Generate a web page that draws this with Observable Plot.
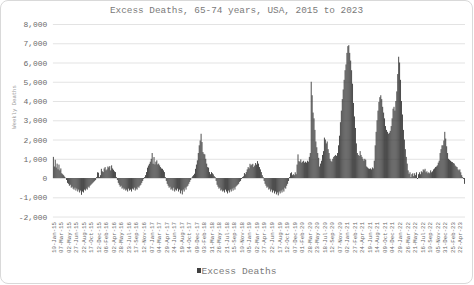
<!DOCTYPE html>
<html>
<head>
<meta charset="utf-8">
<script src="https://cdn.jsdelivr.net/npm/d3@7"></script>
<script src="https://cdn.jsdelivr.net/npm/@observablehq/plot@0.6"></script>
<style>
  html, body { margin: 0; padding: 0; background: #fff; }
  #frame { position: absolute; left: 0; top: 0; width: 473px; height: 284px; box-sizing: border-box;
           border: 1px solid #d9d9d9; border-radius: 8px; background: #fff; overflow: hidden;
           font-family: "Liberation Mono", "DejaVu Sans Mono", monospace; }
  #title { height: 17px; line-height: 19px; text-align: center; font-size: 9.4px; color: #7a7a7a; white-space: nowrap; }
  #chart { height: 246px; }
  #ylabel { position: absolute; left: 13px; top: 106px; font-size: 5.6px; color: #9a9a9a; white-space: nowrap;
            transform: translate(-50%, -50%) rotate(-90deg); }
  #legend { height: 16px; line-height: 16px; text-align: center; font-size: 9.6px; color: #7a7a7a; white-space: nowrap; }
  #legend .sw { display: inline-block; width: 4px; height: 5px; background: #404040; margin-right: 1px; vertical-align: 1px; }
</style>
</head>
<body>
<div id="frame">
  <div id="title">Excess Deaths, 65-74 years, USA, 2015 to 2023</div>
  <div id="chart"></div>
  <div id="ylabel">Weekly Deaths</div>
  <div id="legend"><span class="sw"></span>Excess Deaths</div>
</div>
<script>
// Weekly excess deaths, 65-74 years, USA — one value per week starting 10-Jan-15
const excessDeaths = [
  1100, 600, 950, 550, 750, 450, 700, 400, 500, 250,
  200, 150, 80, 20, -100, -250, -300, -400, -350, -500,
  -450, -550, -600, -500, -650, -550, -700, -600, -750, -650,
  -870, -700, -750, -600, -650, -550, -600, -450, -500, -400,
  -350, -300, -250, -200, -150, -100, 50, 300, 280, 50,
  150, 480, 350, 310, 500, 570, 400, 450, 600, 550,
  620, 400, 660, 500, 430, 350, 310, 50, -100, -250,
  -350, -450, -400, -550, -500, -600, -550, -650, -600, -700,
  -550, -650, -600, -700, -550, -600, -500, -650, -550, -600,
  -450, -500, -400, -350, -250, -150, -50, 50, 150, 310,
  540, 650, 740, 850, 1000, 1300, 740, 1090, 710, 850,
  920, 710, 750, 660, 570, 500, 480, 400, 310, 50,
  -150, -300, -400, -500, -450, -600, -550, -650, -500, -700,
  -600, -650, -550, -700, -600, -800, -650, -850, -600, -700,
  -500, -600, -450, -400, -300, -200, -100, 20, 90, 150,
  225, 480, 700, 920, 1300, 1700, 1950, 2300, 1870, 1350,
  1260, 1230, 1000, 750, 570, 540, 310, 200, 310, 250,
  190, 100, 50, -150, -350, -450, -550, -500, -650, -600,
  -700, -650, -750, -600, -700, -800, -650, -750, -600, -700,
  -550, -650, -500, -600, -450, -400, -350, -300, -200, -150,
  -50, 50, 90, 260, 200, 310, 450, 570, 500, 740,
  660, 700, 740, 570, 650, 780, 700, 880, 750, 570,
  450, 310, 150, 50, -150, -300, -400, -500, -450, -600,
  -550, -700, -600, -750, -650, -800, -700, -850, -750, -900,
  -700, -800, -650, -750, -600, -700, -500, -550, -400, -300,
  -150, 50, 250, 300, 150, 200, 150, 300, 200, 700,
  1230, 880, 850, 970, 800, 850, 900, 800, 850, 800,
  900, 850, 1100, 1300, 5000, 4300, 3400, 3100, 2500, 1900,
  1600, 1300, 1050, 600, 750, 900, 1200, 1400, 2100, 2000,
  1800, 1900, 1500, 1300, 1000, 900, 850, 1000, 1100, 1150,
  1200, 1150, 1300, 1700, 2200, 2900, 3500, 4100, 4600, 5100,
  5600, 5900, 6500, 6850, 6900, 6500, 6100, 5600, 4900, 3900,
  3200, 2600, 1800, 1300, 1200, 1150, 1400, 1200, 1100, 1000,
  900, 1000, 950, 600, 550, 500, 480, 500, 450, 550,
  500, 900, 1700, 2400, 3000, 3500, 3950, 4200, 4300, 4100,
  3700, 3400, 3100, 2700, 2500, 2400, 2300, 2350, 2450, 2700,
  3100, 3600, 3700, 3500, 4000, 4500, 5400, 6300, 6000, 5100,
  4000, 3300, 2500, 2000, 1500, 1100, 750, 400, 220, 300,
  50, 200, 250, 100, 250, 150, 300, -50, 200, 300,
  200, 350, 300, 450, 400, 480, 300, 350, 250, 300,
  250, 400, 300, 350, 450, 500, 570, 600, 660, 800,
  900, 1300, 1500, 1700, 1700, 1950, 2400, 2050, 1650, 1300,
  1000, 950, 900, 850, 830, 780, 750, 650, 600, 570,
  450, 400, 450, 300, 150, 50, -50, -300
];

// Category labels shown on the x axis (every 8th week)
const xTickLabels = [
  "10-Jan-15","07-Mar-15","02-May-15","27-Jun-15","22-Aug-15","17-Oct-15","12-Dec-15",
  "06-Feb-16","02-Apr-16","28-May-16","23-Jul-16","17-Sep-16","12-Nov-16",
  "07-Jan-17","04-Mar-17","29-Apr-17","24-Jun-17","19-Aug-17","14-Oct-17","09-Dec-17",
  "03-Feb-18","31-Mar-18","26-May-18","21-Jul-18","15-Sep-18","10-Nov-18",
  "05-Jan-19","02-Mar-19","27-Apr-19","22-Jun-19","17-Aug-19","12-Oct-19","07-Dec-19",
  "01-Feb-20","28-Mar-20","23-May-20","18-Jul-20","12-Sep-20","07-Nov-20",
  "02-Jan-21","27-Feb-21","24-Apr-21","19-Jun-21","14-Aug-21","09-Oct-21","04-Dec-21",
  "29-Jan-22","26-Mar-22","21-May-22","16-Jul-22","10-Sep-22","05-Nov-22","31-Dec-22",
  "25-Feb-23","22-Apr-23"
];
const tickEvery = 8;
const yTicks = [-2000, -1000, 0, 1000, 2000, 3000, 4000, 5000, 6000, 7000, 8000];

const data = excessDeaths.map((v, i) => ({week: i, value: v}));
const tickWeeks = xTickLabels.map((_, k) => k * tickEvery);
const labelOf = new Map(tickWeeks.map((w, k) => [w, xTickLabels[k]]));
const fmt = d3.format(",");

const chart = Plot.plot({
  width: 472,
  height: 246,
  marginTop: 6,
  marginBottom: 47,
  marginLeft: 52,
  marginRight: 7,
  style: {fontFamily: "Liberation Mono, monospace", background: "transparent"},
  x: {type: "band", domain: d3.range(excessDeaths.length), paddingInner: 0.08, paddingOuter: 0, round: false},
  y: {domain: [-2000, 8000], round: false},
  marks: [
    Plot.gridY(yTicks, {stroke: "#e3e3e3", strokeOpacity: 1, strokeWidth: 1}),
    Plot.barY(data, {x: "week", y: "value", fill: "#333333"}),
    Plot.axisY(yTicks, {tickSize: 0, tickPadding: 6, label: null, fontSize: 8, fill: "#6a6a6a",
      tickFormat: d => fmt(d).replace("\u2212", "-")}),
    Plot.axisX(tickWeeks, {tickSize: 0, tickPadding: 5, tickRotate: -90, label: null, fontSize: 5.75,
      fill: "#6a6a6a", tickFormat: d => labelOf.get(d)})
  ]
});
document.getElementById("chart").appendChild(chart);
</script>
</body>
</html>
